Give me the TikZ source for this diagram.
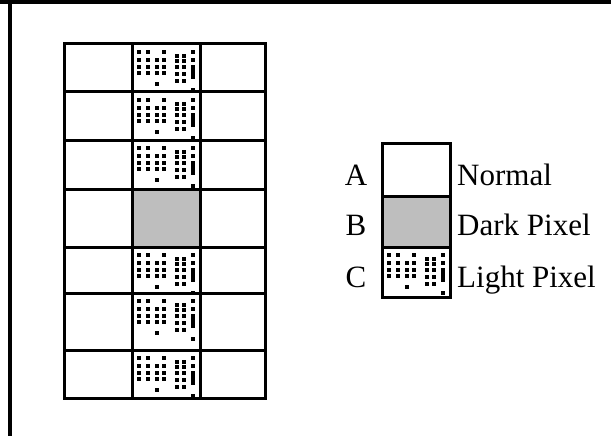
\documentclass[tikz,border=0pt]{standalone}
\usepackage{fontspec}
\setmainfont{Liberation Serif}

\tikzset{
    gridline/.style={line width=3pt, black},
    framebar/.style={line width=4pt, black},
    legendlabel/.style={inner sep=0pt, anchor=base, font=\fontsize{31}{35}\selectfont},
    legendtext/.style={inner sep=0pt, anchor=base west, font=\fontsize{31}{35}\selectfont},
    lightdots/.pic={
        \foreach \dx/\dy in {7/8, 16/8, 32/8, 61/8, 45/12, 52/12,
                             7/16, 16/16, 25/16, 32/16, 45/17, 52/17, 61/16,
                             7/23, 16/23, 25/23, 32/23, 45/23, 52/23, 61/23, 61/26,
                             7/29, 16/29, 25/29, 32/29, 45/30, 52/30, 61/30, 61/33,
                             45/37, 52/37, 25/40, 61/46}
            \fill (\dx-1.7,\dy-1.7) rectangle ++(3.4,3.4);
    }
}
\definecolor{pixgray}{RGB}{190,190,190}

\begin{document}
\begin{tikzpicture}[x=1pt, y=-1pt]
        \useasboundingbox (0,0) rectangle (611,436);
        \fill[white] (0,0) rectangle (611,436);

        % frame
        \draw[framebar] (0,2) -- (611,2);
        \draw[framebar] (10,0) -- (10,436);

        % pixel array
        \fill[pixgray] (132,189) rectangle (200,247);
        \foreach \y in {44, 92, 140, 247, 293, 350}
            \pic at (132,\y) {lightdots};
        \foreach \x in {64, 132, 200, 265}
            \draw[gridline] (\x,44) -- (\x,398);
        \foreach \y in {44, 92, 140, 189, 247, 293, 350, 398}
            \draw[gridline] (64,\y) -- (265,\y);
        \draw[gridline, line join=miter] (64,44) rectangle (265,398);

        % legend
        \fill[pixgray] (382,196) rectangle (450,247);
        \pic at (382,247) {lightdots};
        \draw[gridline] (382,196) -- (450,196);
        \draw[gridline] (382,247) -- (450,247);
        \draw[gridline, line join=miter] (382,143) rectangle (450,297);

        \node[legendlabel] (labA) at (356,185) {A};
        \node[legendlabel] (labB) at (356,235) {B};
        \node[legendlabel] (labC) at (356,287) {C};
        \node[legendtext] (txtA) at (457,185) {Normal};
        \node[legendtext] (txtB) at (457,235) {Dark Pixel};
        \node[legendtext] (txtC) at (457,287) {Light Pixel};
\end{tikzpicture}
\end{document}
